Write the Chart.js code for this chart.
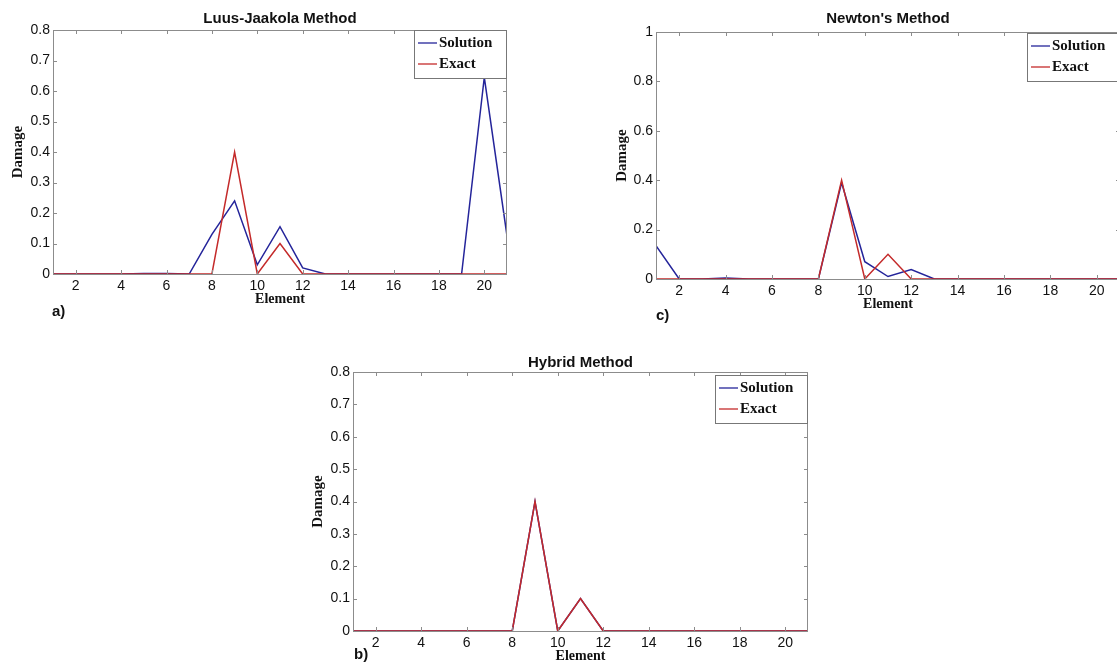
<!DOCTYPE html>
<html>
<head>
<meta charset="utf-8">
<script src="https://cdn.jsdelivr.net/npm/chart.js@4.4.0/dist/chart.umd.min.js"></script>
<style>
  html, body { margin:0; padding:0; background:#fff; width:1117px; height:662px; overflow:hidden; position:relative; }
  .box { position:absolute; }
  .tag { position:absolute; font:bold 15px 'Liberation Sans', Arial, sans-serif; color:#111; }
</style>
</head>
<body>
<div class="box" style="left:0;top:0;width:540px;height:325px"><canvas id="lj"></canvas></div>
<div class="box" style="left:603px;top:0;width:540px;height:330px"><canvas id="nw"></canvas></div>
<div class="box" style="left:300px;top:340px;width:540px;height:325px"><canvas id="hy"></canvas></div>
<div class="tag" style="left:52px;top:302px">a)</div>
<div class="tag" style="left:656px;top:306px">c)</div>
<div class="tag" style="left:354px;top:645px">b)</div>
<script>
// element numbers along the x axis
const ELEMENTS = [1,2,3,4,5,6,7,8,9,10,11,12,13,14,15,16,17,18,19,20,21];
const X_TICKS = [2,4,6,8,10,12,14,16,18,20];
const Y_TICKS_08 = [0,0.1,0.2,0.3,0.4,0.5,0.6,0.7,0.8];
const Y_TICKS_1 = [0,0.2,0.4,0.6,0.8,1];

// exact damage (same in all panels)
const EXACT = [0,0,0,0,0,0,0,0,0.4,0,0.1,0,0,0,0,0,0,0,0,0,0];
// solutions
const SOL_LJ     = [0,0,0,0,0.002,0.002,0,0.13,0.24,0.03,0.155,0.02,0,0,0,0,0,0,0,0.645,0.125];
const SOL_NEWTON = [0.135,0,0,0.004,0,0,0,0,0.39,0.07,0.01,0.038,0,0,0,0,0,0,0,0,0];
const SOL_HYBRID = [0,0,0,0,0,0,0,0,0.4,0,0.1,0,0,0,0,0,0,0,0,0,0];

const BLUE = '#24249a', RED = '#c42a2a', AXIS = '#8c8c8c';
const sans = "'Liberation Sans', Arial, sans-serif";
const serif = "'Liberation Serif', 'Times New Roman', serif";

const pts = vals => ELEMENTS.map((x,i) => ({x, y: vals[i]}));

// MATLAB-like box with inward ticks + legend box inside the plot
const frame = {
  id: 'frame',
  afterDraw(chart) {
    const {ctx, chartArea: a, scales} = chart;
    ctx.save();
    ctx.strokeStyle = AXIS; ctx.lineWidth = 1;
    ctx.strokeRect(a.left + .5, a.top + .5, a.right - a.left - 1, a.bottom - a.top);
    ctx.beginPath();
    scales.x.ticks.forEach(t => {
      const px = Math.round(scales.x.getPixelForValue(t.value)) + .5;
      ctx.moveTo(px, a.bottom); ctx.lineTo(px, a.bottom - 4);
      ctx.moveTo(px, a.top); ctx.lineTo(px, a.top + 4);
    });
    scales.y.ticks.forEach(t => {
      const py = Math.round(scales.y.getPixelForValue(t.value)) + .5;
      ctx.moveTo(a.left, py); ctx.lineTo(a.left + 4, py);
      ctx.moveTo(a.right, py); ctx.lineTo(a.right - 4, py);
    });
    ctx.stroke();
    // legend
    const w = 92, h = 48, lx = a.right - w - 1, ly = a.top + chart.options.legTop;
    ctx.fillStyle = '#fff';
    ctx.fillRect(lx, ly, w, h);
    ctx.strokeStyle = '#777';
    ctx.strokeRect(lx + .5, ly + .5, w, h);
    ctx.font = `bold 15px ${serif}`;
    ctx.textBaseline = 'middle';
    chart.data.datasets.forEach((ds, i) => {
      const y = ly + 13 + i * 21;
      ctx.strokeStyle = ds.borderColor; ctx.lineWidth = 1.3;
      ctx.beginPath(); ctx.moveTo(lx + 4, y); ctx.lineTo(lx + 23, y); ctx.stroke();
      ctx.fillStyle = '#111';
      ctx.fillText(ds.label, lx + 25, y);
    });
    ctx.restore();
  }
};

function panel(id, title, sol, yMax, yTicks, cfg) {
  return new Chart(document.getElementById(id), {
    type: 'line',
    data: { datasets: [
      { label: 'Solution', data: pts(sol), borderColor: BLUE, borderWidth: 1.5, pointRadius: 0, order: 1 },
      { label: 'Exact', data: pts(EXACT), borderColor: RED, borderWidth: 1.5, pointRadius: 0, order: 0 }
    ]},
    options: {
      responsive: true, maintainAspectRatio: false, animation: false,
      legTop: cfg.legTop,
      layout: { padding: { left: 0, top: 0, right: cfg.padR, bottom: cfg.padB } },
      plugins: {
        legend: { display: false }, tooltip: { enabled: false },
        title: { display: true, text: title, fullSize: false, color: '#111',
          font: { family: sans, size: 15, weight: 'bold' }, padding: cfg.titlePad }
      },
      scales: {
        x: { type: 'linear', min: 1, max: 21,
          afterBuildTicks: s => { s.ticks = X_TICKS.map(v => ({value: v})); },
          afterFit: s => { s.height = 34; },
          grid: { display: false, drawTicks: false }, border: { display: false },
          ticks: { color: '#111', padding: 4, font: { family: sans, size: 14 }, maxRotation: 0 },
          title: { display: true, text: 'Element', color: '#111', padding: { top: 0, bottom: cfg.xtPad },
            font: { family: serif, size: 14, weight: 'bold' } } },
        y: { min: 0, max: yMax,
          afterBuildTicks: s => { s.ticks = yTicks.map(v => ({value: v})); },
          afterFit: s => { s.width = 53; },
          grid: { display: false, drawTicks: false }, border: { display: false },
          ticks: { color: '#111', padding: 3, font: { family: sans, size: 14 },
            callback: v => String(+v.toFixed(1)) },
          title: { display: true, text: 'Damage', color: '#111', padding: { top: cfg.ytPad, bottom: 0 },
            font: { family: serif, size: 15, weight: 'bold' } } }
      }
    },
    plugins: [frame]
  });
}

panel('lj', 'Luus-Jaakola Method', SOL_LJ, 0.8, Y_TICKS_08,
  { padR: 33, padB: 17, titlePad: { top: 10, bottom: 2 }, xtPad: 0, ytPad: 9, legTop: 0 });
panel('nw', "Newton's Method", SOL_NEWTON, 1, Y_TICKS_1,
  { padR: 23, padB: 17, titlePad: { top: 10, bottom: 4 }, xtPad: 0, ytPad: 10, legTop: 1 });
panel('hy', 'Hybrid Method', SOL_HYBRID, 0.8, Y_TICKS_08,
  { padR: 32, padB: 0, titlePad: { top: 14, bottom: 0 }, xtPad: 0, ytPad: 9, legTop: 3 });
</script>
</body>
</html>
